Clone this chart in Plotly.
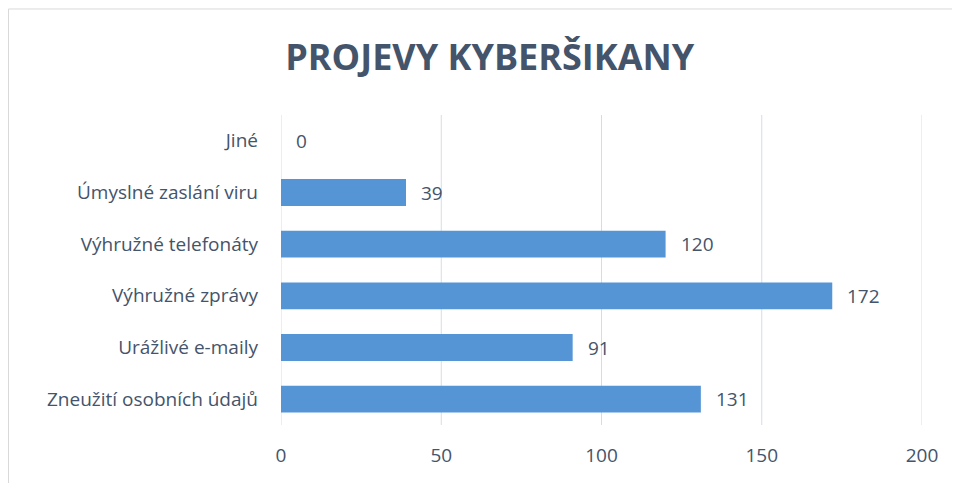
import plotly.graph_objects as go

# categories listed top to bottom as in the chart
categories = [
    "Jiné",
    "Úmyslné zaslání viru",
    "Výhružné telefonáty",
    "Výhružné zprávy",
    "Urážlivé e-maily",
    "Zneužití osobních údajů",
]
counts = [0, 39, 120, 172, 91, 131]
x_ticks = [0, 50, 100, 150, 200]

title_color = "#44546A"
text_color = "#44546A"
bar_color = "#5595D5"
grid_color = "#D6DCE5"

fig = go.Figure()

fig.add_trace(go.Bar(
    x=counts,
    y=categories,
    orientation="h",
    marker=dict(color=bar_color, line=dict(width=0)),
    hoverinfo="x+y",
))

# value labels sit a little to the right of each bar end
for cat, val in zip(categories, counts):
    fig.add_annotation(
        x=val, y=cat, text=str(val),
        xanchor="left", xshift=13, showarrow=False,
        font=dict(size=19, color=text_color),
    )

# gridlines drawn explicitly so the 0 and 200 edges show too
for t in x_ticks:
    fig.add_vline(x=t, line=dict(color=grid_color, width=1), layer="below")

# light frame around the chart area (as in the Excel export)
fig.add_shape(
    type="rect", xref="paper", yref="paper",
    x0=-0.4251, x1=1.07, y0=-0.25, y1=1.342,
    line=dict(color="#D9D9D9", width=1), layer="below",
)

# page body adds an 8px offset, so the figure is 8px smaller than the window
fig.update_layout(
    width=952,
    height=475,
    margin=dict(l=273, r=38, t=107, b=58),
    paper_bgcolor="white",
    plot_bgcolor="white",
    font=dict(family="Open Sans", color=text_color, size=19),
    title=dict(
        text="<b>PROJEVY KYBERŠIKANY</b>",
        x=0.506, xref="container", xanchor="center",
        y=0.897, yref="container", yanchor="middle",
        font=dict(size=36, color=title_color),
    ),
    bargap=0.48,
    showlegend=False,
    xaxis=dict(
        range=[0, 200],
        tickvals=x_ticks,
        showgrid=False,
        zeroline=False,
        showline=False,
        ticklabelstandoff=17,
        tickfont=dict(size=19, color=text_color),
    ),
    yaxis=dict(
        autorange="reversed",
        showgrid=False,
        showline=False,
        zeroline=False,
        ticklabelstandoff=22,
        tickfont=dict(size=19, color=text_color),
    ),
)

fig.write_html("out.html")
